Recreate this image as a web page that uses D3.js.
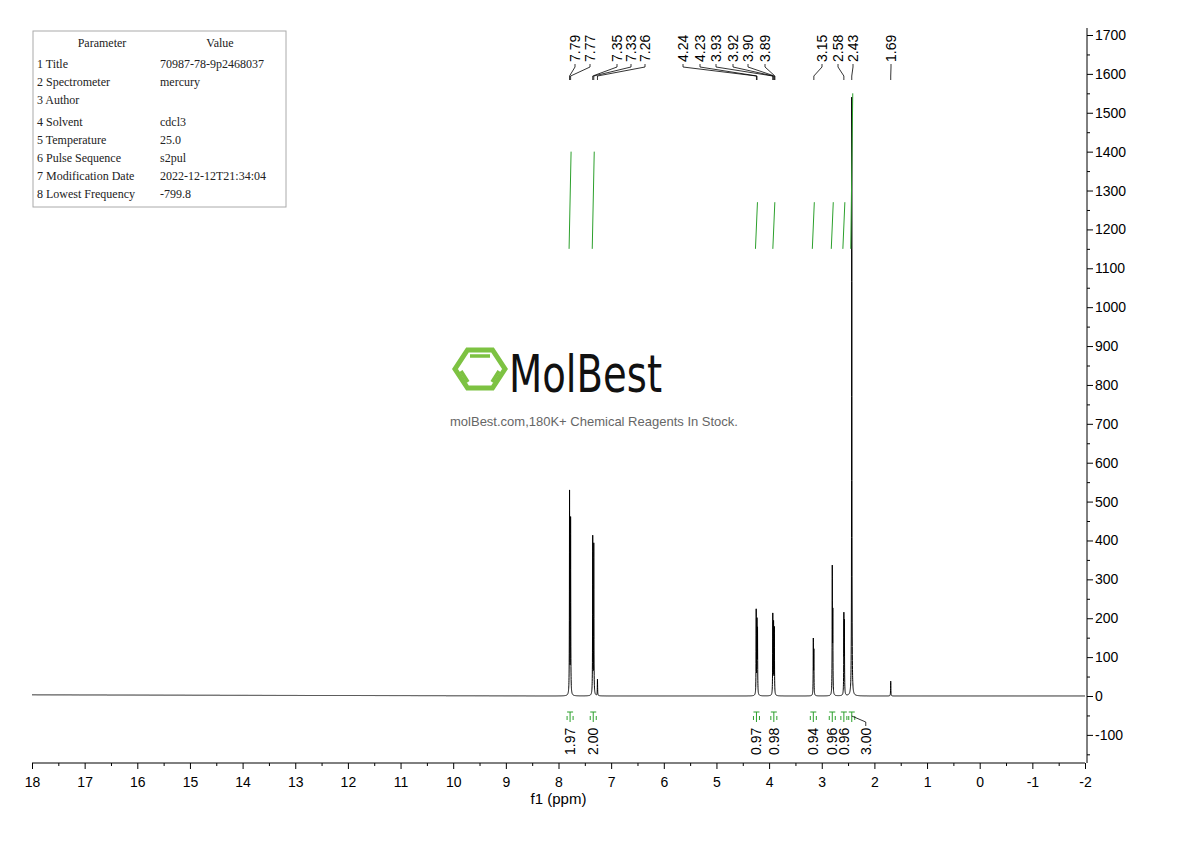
<!DOCTYPE html><html><head><meta charset="utf-8"><script src="https://cdn.jsdelivr.net/npm/d3@7"></script>
<style>body{margin:0;background:#fff}</style></head><body><svg id="c" width="1190" height="841"></svg><script>
const peakPos=[7.79,7.77,7.35,7.33,7.26,4.245,4.23,4.22,3.93,3.915,3.90,3.16,3.15,2.80,2.79,2.58,2.57,2.43,1.69];
const peakHt=[520,450,405,385,42,215,180,160,205,180,170,140,110,320,200,200,180,1540,38];
const peakLabels=["7.79","7.77","7.35","7.33","7.26","4.24","4.23","3.93","3.92","3.90","3.89","3.15","2.58","2.43","1.69"];
const peakLabelPpm=[7.79,7.77,7.35,7.33,7.26,4.24,4.23,3.93,3.92,3.90,3.89,3.15,2.58,2.43,1.69];
const integVal=["1.97","2.00","0.97","0.98","0.94","0.96","0.96","3.00"];
const integPpm=[7.78,7.34,4.24,3.91,3.16,2.80,2.58,2.43];
const integTop=[1400,1400,1270,1270,1270,1270,1270,1550];
const xTicks=[18,17,16,15,14,13,12,11,10,9,8,7,6,5,4,3,2,1,0,-1,-2];
const yTicks=[-100,0,100,200,300,400,500,600,700,800,900,1000,1100,1200,1300,1400,1500,1600,1700];
const params=[["Parameter","Value"],["1 Title","70987-78-9p2468037"],["2 Spectrometer","mercury"],["3 Author",""],["4 Solvent","cdcl3"],["5 Temperature","25.0"],["6 Pulse Sequence","s2pul"],["7 Modification Date","2022-12-12T21:34:04"],["8 Lowest Frequency","-799.8"]];
const svg=d3.select("#c");
const x=d3.scaleLinear().domain([18,-2]).range([32,1085]);
const y=d3.scaleLinear().domain([0,1700]).range([696,35]);
const fmt=d=>String(d);
const pts=[];const w=0.003;
for(let p=18;p>=-2;p-=0.001){let v=0;peakPos.forEach((c,i)=>{const d=(p-c)/w;v+=peakHt[i]/(1+d*d);});v+=p>8?(p-8)*0.3:0;pts.push([p,v]);}
svg.append("path").attr("d",d3.line().x(d=>x(d[0])).y(d=>y(d[1]))(pts)).attr("fill","none").attr("stroke","#000").attr("stroke-width",1);
const gx=svg.append("g").attr("transform","translate(0,763)").call(d3.axisBottom(x).tickValues(xTicks).tickFormat(fmt).tickSize(6));
gx.selectAll("text").attr("font-family","Arial").attr("font-size",14).attr("dy","1.1em");
gx.select(".domain").attr("d",`M32,0H1085`);
svg.append("g").attr("transform","translate(0,763)").call(d3.axisBottom(x).tickValues(d3.range(17.5,-2,-1)).tickFormat("").tickSize(3)).select(".domain").remove();
svg.append("text").attr("x",x(8)).attr("y",804).attr("text-anchor","middle").attr("font-family","Arial").attr("font-size",15).text("f1 (ppm)");
const gy=svg.append("g").attr("transform","translate(1087,0)").call(d3.axisRight(y).tickValues(yTicks).tickFormat(fmt).tickSize(6));
gy.selectAll("text").attr("font-family","Arial").attr("font-size",14).attr("x",8);
gy.select(".domain").attr("d","M0,28V763");
svg.append("g").attr("transform","translate(1087,0)").call(d3.axisRight(y).tickValues(d3.range(-150,1700,50).filter(v=>v%100)).tickFormat("").tickSize(3)).select(".domain").remove();
const labX=[575,590,617,631,645,683,700,716,733,748,765,822,838,853,891];
peakLabels.forEach((t,i)=>{
 svg.append("text").attr("transform",`translate(${labX[i]+5},62) rotate(-90)`).attr("text-anchor","start").attr("font-family","Arial").attr("font-size",14).text(t);
 const px=x(peakLabelPpm[i]);
 svg.append("path").attr("d",`M${labX[i]},64V67L${px},76V80`).attr("fill","none").attr("stroke","#000").attr("stroke-width",0.8);
});
integPpm.forEach((p,i)=>{
 const px=x(p);
 svg.append("line").attr("x1",px-1).attr("x2",px+1).attr("y1",y(1150)).attr("y2",y(integTop[i])).attr("stroke","#2ca02c").attr("stroke-width",1);
 svg.append("path").attr("d",`M${px-3},712H${px+3}M${px},712V722M${px-3},716v4M${px+3},716v4`).attr("stroke","#2ca02c").attr("fill","none");
 let tx=px; if(i==7){tx=px+14;svg.append("path").attr("d",`M${px},716L${tx},722V726`).attr("stroke","#000").attr("fill","none").attr("stroke-width",0.8);}
 svg.append("text").attr("transform",`translate(${tx+5},${755}) rotate(-90)`).attr("text-anchor","start").attr("font-family","Arial").attr("font-size",14).text(integVal[i]);
});
svg.append("rect").attr("x",33).attr("y",31).attr("width",253).attr("height",176).attr("fill","#fff").attr("stroke","#aaa");
params.forEach((r,i)=>{
 const yy=i==0?47:i<4?68+(i-1)*18:68+(i-1)*18+4;
 svg.append("text").attr("x",i==0?102:37).attr("y",yy).attr("text-anchor",i==0?"middle":"start").attr("font-family","Liberation Serif").attr("font-size",12).attr("fill","#222").text(r[0]);
 svg.append("text").attr("x",i==0?220:160).attr("y",yy).attr("text-anchor",i==0?"middle":"start").attr("font-family","Liberation Serif").attr("font-size",12).attr("fill","#222").text(r[1]);
});
const hx=480,hy=369;const hex=d3.range(6).map(k=>[hx+25*Math.cos(k*Math.PI/3),hy+22*Math.sin(k*Math.PI/3)]);
svg.append("polygon").attr("points",hex.map(p=>p.join(",")).join(" ")).attr("fill","none").attr("stroke","#7dc242").attr("stroke-width",5);
svg.append("path").attr("d",`M${hx-10},${hy-13}H${hx+10}M${hx-19},${hy+2}L${hx-12},${hy+13}M${hx+19},${hy+2}L${hx+12},${hy+13}`).attr("stroke","#7dc242").attr("stroke-width",3.5);
svg.append("text").attr("x",509).attr("y",392).attr("font-family","DejaVu Sans Condensed").attr("font-size",52).attr("textLength",153).attr("lengthAdjust","spacingAndGlyphs").attr("fill","#111").text("MolBest");
svg.append("text").attr("x",594).attr("y",426).attr("text-anchor","middle").attr("font-family","Arial").attr("font-size",13).attr("fill","#666").text("molBest.com,180K+ Chemical Reagents In Stock.");
</script></body></html>
